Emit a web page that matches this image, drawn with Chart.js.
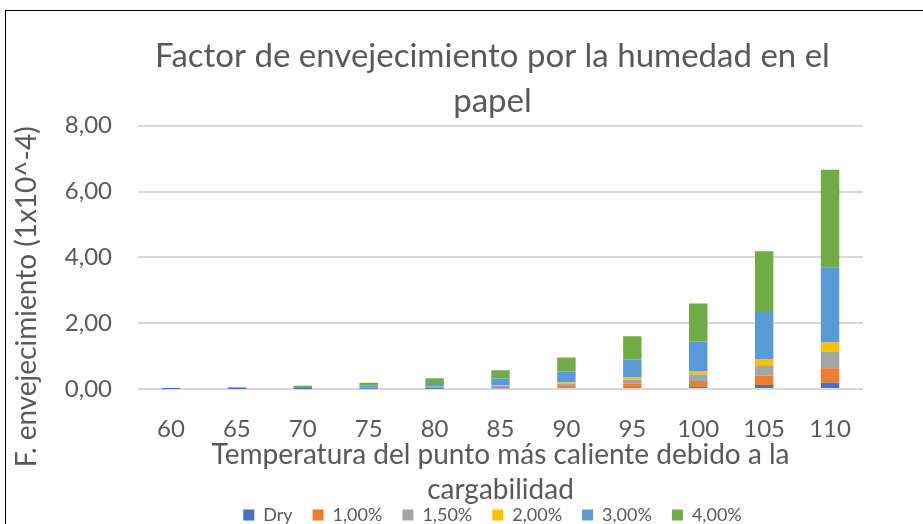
<!DOCTYPE html>
<html>
<head>
<meta charset="utf-8">
<script src="https://cdn.jsdelivr.net/npm/chart.js@4"></script>
<style>
  html, body { margin: 0; padding: 0; background: #fff; overflow: hidden; }
  #frame { position: absolute; left: 5px; top: 10px; width: 2000px; height: 2000px;
           border-left: 1px solid #000; border-top: 1px solid #000; }
  #wrap { position: absolute; left: 0; top: 0; width: 985px; height: 524px; }
</style>
</head>
<body>
<div id="frame"></div>
<div id="wrap"><canvas id="chart"></canvas></div>
<script>
// Temperatures on the x axis
const temps = ["60", "65", "70", "75", "80", "85", "90", "95", "100", "105", "110"];

// Ageing factor (1x10^-4) per moisture content
const dry  = [0.001, 0.002, 0.003, 0.005, 0.01, 0.02, 0.03, 0.05, 0.07, 0.12, 0.19];
const h100 = [0.002, 0.004, 0.007, 0.013, 0.02, 0.04, 0.06, 0.11, 0.17, 0.28, 0.44];
const h150 = [0.002, 0.004, 0.008, 0.015, 0.03, 0.04, 0.07, 0.12, 0.20, 0.32, 0.51];
const h200 = [0.001, 0.002, 0.004, 0.008, 0.01, 0.02, 0.04, 0.07, 0.11, 0.18, 0.27];
const h300 = [0.010, 0.018, 0.035, 0.065, 0.11, 0.20, 0.33, 0.55, 0.89, 1.44, 2.29];
const h400 = [0.013, 0.024, 0.045, 0.085, 0.15, 0.25, 0.43, 0.70, 1.16, 1.85, 2.96];

const seriesNames = ["Dry", "1,00%", "1,50%", "2,00%", "3,00%", "4,00%"];
const seriesData = [dry, h100, h150, h200, h300, h400];
const seriesColors = ["#4472C4", "#ED7D31", "#A5A5A5", "#FFC000", "#5B9BD5", "#70AD47"];

const yTicks = [0, 2, 4, 6, 8];

const txt = "#595959";
const fam = "Lato, 'Open Sans', sans-serif";

new Chart(document.getElementById("chart"), {
  type: "bar",
  data: {
    labels: temps,
    datasets: seriesNames.map((name, i) => ({
      label: name,
      data: seriesData[i],
      backgroundColor: seriesColors[i],
      borderWidth: 0,
      barPercentage: 0.28,
      categoryPercentage: 1,
      yAxisID: "y",
    })),
  },
  options: {
    responsive: true,
    maintainAspectRatio: false,
    animation: false,
    layout: { padding: { left: 0, right: 0, top: 0, bottom: -10 } },
    plugins: {
      title: {
        display: true,
        text: ["Factor de envejecimiento por la humedad en el", "papel"],
        color: txt,
        font: { family: fam, size: 33, weight: "normal", lineHeight: 1.36 },
        padding: { top: 34, bottom: 2 },
      },
      legend: {
        position: "bottom",
        labels: {
          color: txt,
          font: { family: fam, size: 18 },
          boxWidth: 11,
          boxHeight: 11,
          padding: 20,
        },
      },
      tooltip: { enabled: false },
    },
    scales: {
      x: {
        stacked: true,
        grid: { display: false, drawTicks: false },
        border: { display: false },
        ticks: { color: txt, font: { family: fam, size: 24 }, padding: 26 },
        title: {
          display: true,
          text: ["Temperatura del punto más caliente debido a la", "cargabilidad"],
          color: txt,
          font: { family: fam, size: 28, lineHeight: 1.25 },
          padding: { top: 0, bottom: -21 },
        },
        afterFit: (s) => { s.height = 97; },
      },
      y: {
        stacked: true,
        min: 0,
        max: 8,
        afterBuildTicks: (s) => { s.ticks = yTicks.map((v) => ({ value: v })); },
        grid: { color: "#D9D9D9", lineWidth: 2, drawTicks: false },
        border: { display: false },
        ticks: {
          color: txt,
          font: { family: fam, size: 24 },
          padding: 26,
          callback: (v) => v.toFixed(2).replace(".", ","),
        },
        title: {
          display: true,
          // trailing spaces push the label down along the axis, as in the original
          text: "F. envejecimiento (1x10^-4)" + "\u00a0".repeat(11),
          color: txt,
          font: { family: fam, size: 28, lineHeight: 1.2 },
          padding: { top: 10, bottom: 0 },
        },
        afterFit: (s) => { s.width = 138; },
      },
      yR: {
        position: "right",
        display: true,
        grid: { display: false, drawTicks: false },
        border: { display: false },
        ticks: { display: false },
        afterFit: (s) => { s.width = 122; },
      },
    },
  },
});
</script>
</body>
</html>
